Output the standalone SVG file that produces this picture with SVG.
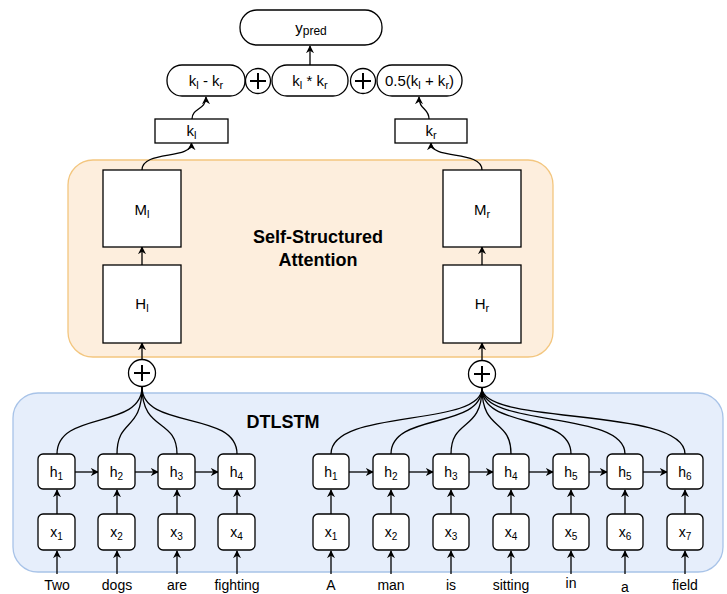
<svg xmlns="http://www.w3.org/2000/svg" width="727" height="594" viewBox="0 0 727 594">
<defs>
<marker id="arr" viewBox="0 0 10 10" refX="9" refY="5" markerWidth="8" markerHeight="8" markerUnits="userSpaceOnUse" orient="auto">
<path d="M0,0 L10,5 L0,10 L3,5 Z" fill="#000"/>
</marker>
<style>
text{font-family:"Liberation Sans",Arial,sans-serif;fill:#000}
.lbl{font-size:14px;text-anchor:middle}
.big{font-size:15px;text-anchor:middle}
.sub{font-size:10px}
.bsub{font-size:11px}
.bold{font-size:18px;font-weight:bold;text-anchor:middle}
.node{fill:#fff;stroke:#000;stroke-width:1.3}
.edge{fill:none;stroke:#000;stroke-width:1.3}
.arrow{fill:none;stroke:#000;stroke-width:1.3;marker-end:url(#arr)}
.plus{stroke:#000;stroke-width:2}
</style>
</defs>
<rect width="727" height="594" fill="#fff"/>

<g id="containers">
<rect id="attention-box" x="68" y="160" width="485" height="197" rx="25" fill="#fdeedd" stroke="#f3c67f" stroke-width="1.3"/>
<text class="bold" x="318" y="243">Self-Structured</text>
<text class="bold" x="318" y="266">Attention</text>
<rect id="dtlstm-box" x="13" y="393" width="710" height="179" rx="25" fill="#e6eefb" stroke="#a8c3e8" stroke-width="1.3"/>
<text class="bold" x="283" y="428">DTLSTM</text>
</g>

<g id="connectors">
<path class="arrow" d="M310,65 L310,46"/>
<path class="arrow" d="M192,119 C192,108 206,110 206,97"/>
<path class="arrow" d="M429,119 C429,108 419,110 419,97"/>
<path class="arrow" d="M142,170 C142,150 191.5,160 191.5,143"/>
<path class="arrow" d="M482,170 C482,150 431,160 431,143"/>
<path class="arrow" d="M142,265 L142,247"/>
<path class="arrow" d="M482,265 L482,247"/>
<path class="arrow" d="M142,360 L142,343"/>
<path class="arrow" d="M482,361 L482,343"/>
<path class="edge" d="M57,454 C57,410 142,430 142,387"/>
<path class="edge" d="M117,454 C117,418 142,432 142,387"/>
<path class="edge" d="M177,454 C177,418 142,432 142,387"/>
<path class="edge" d="M237,454 C237,410 142,430 142,387"/>
<path class="edge" d="M331,454 C331,408 482,428 482,388"/>
<path class="edge" d="M391,454 C391,412 482,430 482,388"/>
<path class="edge" d="M451,454 C451,418 482,432 482,388"/>
<path class="edge" d="M511,454 C511,418 482,432 482,388"/>
<path class="edge" d="M571,454 C571,412 482,430 482,388"/>
<path class="edge" d="M625,454 C625,410 482,428 482,388"/>
<path class="edge" d="M685,454 C685,406 482,426 482,388"/>
<path class="arrow" d="M75,472 L98,472"/>
<path class="arrow" d="M135,472 L158,472"/>
<path class="arrow" d="M195,472 L218,472"/>
<path class="arrow" d="M349,472 L373,472"/>
<path class="arrow" d="M409,472 L433,472"/>
<path class="arrow" d="M469,472 L493,472"/>
<path class="arrow" d="M529,472 L553,472"/>
<path class="arrow" d="M589,472 L607,472"/>
<path class="arrow" d="M643,472 L667,472"/>
<path class="arrow" d="M57,514 L57,490"/>
<path class="arrow" d="M117,514 L117,490"/>
<path class="arrow" d="M177,514 L177,490"/>
<path class="arrow" d="M237,514 L237,490"/>
<path class="arrow" d="M331,514 L331,490"/>
<path class="arrow" d="M391,514 L391,490"/>
<path class="arrow" d="M451,514 L451,490"/>
<path class="arrow" d="M511,514 L511,490"/>
<path class="arrow" d="M571,514 L571,490"/>
<path class="arrow" d="M625,514 L625,490"/>
<path class="arrow" d="M685,514 L685,490"/>
<path class="arrow" d="M57,574 L57,551"/>
<path class="arrow" d="M117,574 L117,551"/>
<path class="arrow" d="M177,574 L177,551"/>
<path class="arrow" d="M237,574 L237,551"/>
<path class="arrow" d="M331,574 L331,551"/>
<path class="arrow" d="M391,574 L391,551"/>
<path class="arrow" d="M451,574 L451,551"/>
<path class="arrow" d="M511,574 L511,551"/>
<path class="arrow" d="M571,574 L571,551"/>
<path class="arrow" d="M625,574 L625,551"/>
<path class="arrow" d="M685,574 L685,551"/>
</g>

<g id="ypred">
<rect class="node" x="240" y="10" width="142" height="35" rx="17"/>
<text class="big" x="311" y="33">y<tspan font-size="12" dy="2">pred</tspan></text>
</g>
<g id="diff">
<rect class="node" x="167" y="65" width="78" height="31" rx="15"/>
<text class="big" x="206" y="86">k<tspan class="bsub" dy="3">l</tspan><tspan dy="-3"> - k</tspan><tspan class="bsub" dy="3">r</tspan></text>
</g>
<g id="plus1">
<circle cx="258" cy="81" r="12.5" fill="#fff" stroke="#000" stroke-width="1.3"/>
<path class="plus" d="M250,81 H266 M258,73 V89"/>
</g>
<g id="prod">
<rect class="node" x="272" y="65" width="76" height="31" rx="15"/>
<text class="big" x="310" y="86">k<tspan class="bsub" dy="3">l</tspan><tspan dy="-3"> * k</tspan><tspan class="bsub" dy="3">r</tspan></text>
</g>
<g id="plus2">
<circle cx="363" cy="81" r="12.5" fill="#fff" stroke="#000" stroke-width="1.3"/>
<path class="plus" d="M355,81 H371 M363,73 V89"/>
</g>
<g id="avg">
<rect class="node" x="377" y="65" width="85" height="31" rx="15"/>
<text class="big" x="419.5" y="86">0.5(k<tspan class="bsub" dy="3">l</tspan><tspan dy="-3"> + k</tspan><tspan class="bsub" dy="3">r</tspan><tspan dy="-3">)</tspan></text>
</g>
<g id="kl">
<rect class="node" x="155" y="119" width="73" height="24"/>
<text class="big" x="191.5" y="136">k<tspan class="bsub" dy="3">l</tspan></text>
</g>
<g id="kr">
<rect class="node" x="395" y="119" width="72" height="24"/>
<text class="big" x="431" y="136">k<tspan class="bsub" dy="3">r</tspan></text>
</g>
<g id="Ml">
<rect class="node" x="103" y="170" width="78" height="77"/>
<text class="big" x="142" y="215">M<tspan class="bsub" dy="3">l</tspan></text>
</g>
<g id="Hl">
<rect class="node" x="103" y="265" width="78" height="78"/>
<text class="big" x="142" y="309">H<tspan class="bsub" dy="3">l</tspan></text>
</g>
<g id="Mr">
<rect class="node" x="443" y="170" width="78" height="77"/>
<text class="big" x="482" y="215">M<tspan class="bsub" dy="3">r</tspan></text>
</g>
<g id="Hr">
<rect class="node" x="443" y="265" width="78" height="78"/>
<text class="big" x="482" y="309">H<tspan class="bsub" dy="3">r</tspan></text>
</g>
<g id="plusL">
<circle cx="142" cy="373" r="13.5" fill="#fff" stroke="#000" stroke-width="1.3"/>
<path class="plus" d="M134,373 H150 M142,365 V381"/>
</g>
<g id="plusR">
<circle cx="482" cy="374" r="13.5" fill="#fff" stroke="#000" stroke-width="1.3"/>
<path class="plus" d="M474,374 H490 M482,366 V382"/>
</g>

<g id="L-h1"><rect class="node" x="38" y="454" width="37" height="35" rx="5"/><text class="lbl" x="56.5" y="477">h<tspan class="sub" dy="3">1</tspan></text></g>
<g id="L-h2"><rect class="node" x="98" y="454" width="37" height="35" rx="5"/><text class="lbl" x="116.5" y="477">h<tspan class="sub" dy="3">2</tspan></text></g>
<g id="L-h3"><rect class="node" x="158" y="454" width="37" height="35" rx="5"/><text class="lbl" x="176.5" y="477">h<tspan class="sub" dy="3">3</tspan></text></g>
<g id="L-h4"><rect class="node" x="218" y="454" width="37" height="35" rx="5"/><text class="lbl" x="236.5" y="477">h<tspan class="sub" dy="3">4</tspan></text></g>
<g id="L-x1"><rect class="node" x="38" y="514" width="37" height="36" rx="5"/><text class="lbl" x="56.5" y="537">x<tspan class="sub" dy="3">1</tspan></text></g>
<g id="L-x2"><rect class="node" x="98" y="514" width="37" height="36" rx="5"/><text class="lbl" x="116.5" y="537">x<tspan class="sub" dy="3">2</tspan></text></g>
<g id="L-x3"><rect class="node" x="158" y="514" width="37" height="36" rx="5"/><text class="lbl" x="176.5" y="537">x<tspan class="sub" dy="3">3</tspan></text></g>
<g id="L-x4"><rect class="node" x="218" y="514" width="37" height="36" rx="5"/><text class="lbl" x="236.5" y="537">x<tspan class="sub" dy="3">4</tspan></text></g>
<g id="L-words">
<text class="lbl" x="57" y="590">Two</text>
<text class="lbl" x="117" y="590">dogs</text>
<text class="lbl" x="177" y="590">are</text>
<text class="lbl" x="237" y="590">fighting</text>
</g>

<g id="R-h1"><rect class="node" x="313" y="454" width="36" height="35" rx="5"/><text class="lbl" x="331" y="477">h<tspan class="sub" dy="3">1</tspan></text></g>
<g id="R-h2"><rect class="node" x="373" y="454" width="36" height="35" rx="5"/><text class="lbl" x="391" y="477">h<tspan class="sub" dy="3">2</tspan></text></g>
<g id="R-h3"><rect class="node" x="433" y="454" width="36" height="35" rx="5"/><text class="lbl" x="451" y="477">h<tspan class="sub" dy="3">3</tspan></text></g>
<g id="R-h4"><rect class="node" x="493" y="454" width="36" height="35" rx="5"/><text class="lbl" x="511" y="477">h<tspan class="sub" dy="3">4</tspan></text></g>
<g id="R-h5"><rect class="node" x="553" y="454" width="36" height="35" rx="5"/><text class="lbl" x="571" y="477">h<tspan class="sub" dy="3">5</tspan></text></g>
<g id="R-h5b"><rect class="node" x="607" y="454" width="36" height="35" rx="5"/><text class="lbl" x="625" y="477">h<tspan class="sub" dy="3">5</tspan></text></g>
<g id="R-h6"><rect class="node" x="667" y="454" width="36" height="35" rx="5"/><text class="lbl" x="685" y="477">h<tspan class="sub" dy="3">6</tspan></text></g>
<g id="R-x1"><rect class="node" x="313" y="514" width="36" height="36" rx="5"/><text class="lbl" x="331" y="537">x<tspan class="sub" dy="3">1</tspan></text></g>
<g id="R-x2"><rect class="node" x="373" y="514" width="36" height="36" rx="5"/><text class="lbl" x="391" y="537">x<tspan class="sub" dy="3">2</tspan></text></g>
<g id="R-x3"><rect class="node" x="433" y="514" width="36" height="36" rx="5"/><text class="lbl" x="451" y="537">x<tspan class="sub" dy="3">3</tspan></text></g>
<g id="R-x4"><rect class="node" x="493" y="514" width="36" height="36" rx="5"/><text class="lbl" x="511" y="537">x<tspan class="sub" dy="3">4</tspan></text></g>
<g id="R-x5"><rect class="node" x="553" y="514" width="36" height="36" rx="5"/><text class="lbl" x="571" y="537">x<tspan class="sub" dy="3">5</tspan></text></g>
<g id="R-x6"><rect class="node" x="607" y="514" width="36" height="36" rx="5"/><text class="lbl" x="625" y="537">x<tspan class="sub" dy="3">6</tspan></text></g>
<g id="R-x7"><rect class="node" x="667" y="514" width="36" height="36" rx="5"/><text class="lbl" x="685" y="537">x<tspan class="sub" dy="3">7</tspan></text></g>
<g id="R-words">
<text class="lbl" x="331" y="590">A</text>
<text class="lbl" x="391" y="590">man</text>
<text class="lbl" x="451" y="590">is</text>
<text class="lbl" x="511" y="590">sitting</text>
<text class="lbl" x="571" y="588">in</text>
<text class="lbl" x="625" y="592">a</text>
<text class="lbl" x="685" y="590">field</text>
</g>
</svg>
